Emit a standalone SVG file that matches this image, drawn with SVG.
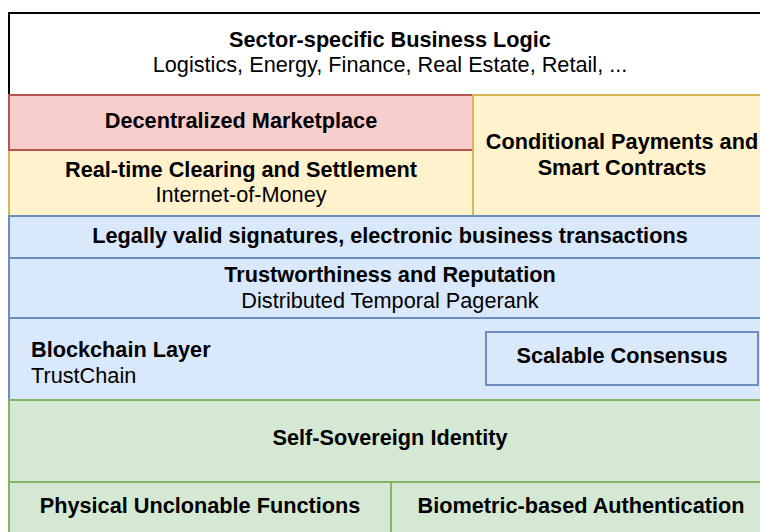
<svg xmlns="http://www.w3.org/2000/svg" width="760" height="532" viewBox="0 0 760 532">
<style>
text{font-family:"Liberation Sans",Arial,sans-serif;fill:#000;text-anchor:middle}
.b{font-weight:bold;font-size:21.7px}
.r{font-size:21.7px}
.red{fill:#f8cecc;stroke:#b85450;stroke-width:2}
.yel{fill:#fff2cc;stroke:#d6b656;stroke-width:2}
.blu{fill:#dae8fc;stroke:#6c8ebf;stroke-width:2}
.grn{fill:#d5e8d4;stroke:#82b366;stroke-width:2}
</style>
<rect width="760" height="532" fill="#fff"/>
<g id="business">
<rect x="9" y="13" width="762" height="82" fill="#fff" stroke="#000" stroke-width="2"/>
<text class="b" x="390" y="47">Sector-specific Business Logic</text>
<text class="r" x="390" y="72">Logistics, Energy, Finance, Real Estate, Retail, ...</text>
</g>
<g id="clearing">
<rect class="yel" x="9" y="150" width="464" height="66"/>
<text class="b" x="241" y="177">Real-time Clearing and Settlement</text>
<text class="r" x="241" y="202">Internet-of-Money</text>
</g>
<g id="marketplace">
<rect class="red" x="9" y="95" width="464" height="55"/>
<text class="b" x="241" y="128">Decentralized Marketplace</text>
</g>
<g id="payments">
<rect class="yel" x="473" y="95" width="298" height="121"/>
<text class="b" x="622" y="149">Conditional Payments and</text>
<text class="b" x="622" y="175">Smart Contracts</text>
</g>
<g id="signatures">
<rect class="blu" x="9" y="216" width="762" height="42"/>
<text class="b" x="390" y="243">Legally valid signatures, electronic business transactions</text>
</g>
<g id="trust">
<rect class="blu" x="9" y="258" width="762" height="60"/>
<text class="b" x="390" y="282">Trustworthiness and Reputation</text>
<text class="r" x="390" y="308">Distributed Temporal Pagerank</text>
</g>
<g id="blockchain">
<rect class="blu" x="9" y="318" width="762" height="82"/>
<text class="b" x="31" y="357" style="text-anchor:start">Blockchain Layer</text>
<text class="r" x="31" y="383" style="text-anchor:start">TrustChain</text>
</g>
<g id="consensus">
<rect class="blu" x="486" y="332" width="272" height="53"/>
<text class="b" x="622" y="363">Scalable Consensus</text>
</g>
<g id="identity">
<rect class="grn" x="9" y="400" width="762" height="82"/>
<text class="b" x="390" y="445">Self-Sovereign Identity</text>
</g>
<g id="puf">
<rect class="grn" x="9" y="482" width="382" height="60"/>
<text class="b" x="200" y="513">Physical Unclonable Functions</text>
</g>
<g id="biometric">
<rect class="grn" x="391" y="482" width="380" height="60"/>
<text class="b" x="581" y="513">Biometric-based Authentication</text>
</g>
<g id="connectors"></g>
</svg>
